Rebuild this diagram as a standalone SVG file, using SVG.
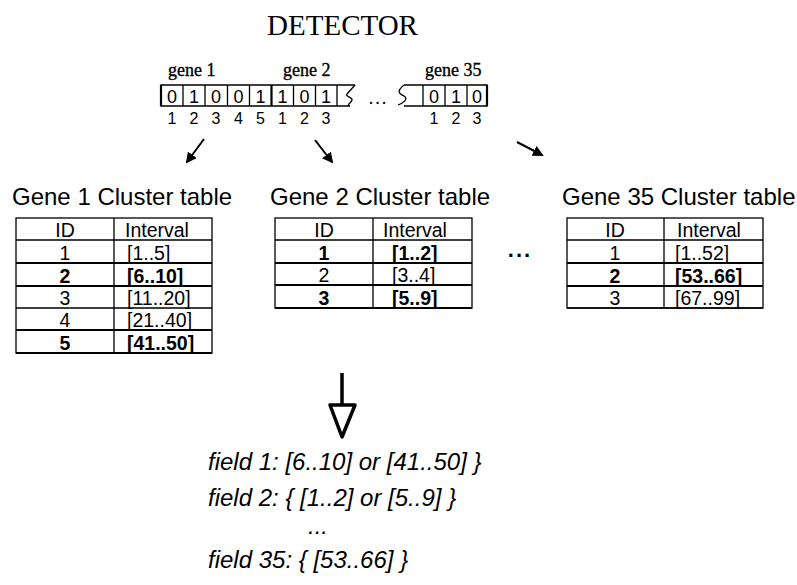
<svg xmlns="http://www.w3.org/2000/svg" width="797" height="585" viewBox="0 0 797 585">
<style>
.serif{font-family:"Liberation Serif","Times New Roman",serif;fill:#000}
.sans{font-family:"Liberation Sans",Arial,sans-serif;fill:#000}
.gl{font-size:18px;stroke:#000;stroke-width:0.35}
.title{font-size:24px}
.cell{font-size:18px;text-anchor:middle}
.idx{font-size:16px;text-anchor:middle}
.tt{font-size:19.5px}
.c{text-anchor:middle}
.b{font-weight:bold}
.field{font-size:24px;font-style:italic}
.ln{stroke:#000;stroke-width:1.3;fill:none}
.th{stroke:#000;stroke-width:2.2;fill:none}
.arr{stroke:#000;stroke-width:2;fill:none}
</style>
<defs>
<marker id="ah" markerWidth="11" markerHeight="11" refX="9" refY="5.5" orient="auto" markerUnits="userSpaceOnUse">
<path d="M0,0 L11,5.5 L0,11 Z" fill="#000"/>
</marker>
</defs>

<g id="detector-title">
<text class="serif" x="342.5" y="35" font-size="29" text-anchor="middle">DETECTOR</text>
</g>

<g id="bitstring">
<text class="serif gl" x="168" y="76">gene 1</text>
<text class="serif gl" x="283" y="76">gene 2</text>
<text class="serif gl" x="425" y="76">gene 35</text>
<path class="ln" d="M161 85 H355 M161 106 H350"/>
<path class="ln" d="M183 85 V106 M205 85 V106 M227.5 85 V106 M249.5 85 V106 M293.5 85 V106 M315.5 85 V106 M337 85 V106"/>
<path class="th" d="M161 84.5 V106.5 M271.5 85 V106"/>
<path class="ln" d="M355 85 L347 94 C345 97, 353 97, 352 100 C351 103, 347 104, 349 106"/>
<text class="sans" x="378" y="104" font-size="20" text-anchor="middle" letter-spacing="1">...</text>
<path class="ln" d="M404 85 C398 90, 397 93, 404 96 C409 99, 403 103, 398 105"/>
<path class="ln" d="M404 85 H487 M404 106 H487 M423 85 V106 M445 85 V106 M467 85 V106"/>
<path class="th" d="M487 84.5 V106.5"/>
<g class="sans cell">
<text x="172" y="103">0</text><text x="194" y="103">1</text><text x="216" y="103">0</text><text x="238.5" y="103">0</text><text x="260.5" y="103">1</text>
<text x="282.5" y="103">1</text><text x="304.5" y="103">0</text><text x="326" y="103">1</text>
<text x="434" y="103">0</text><text x="456" y="103">1</text><text x="477" y="103">0</text>
</g>
<g class="sans idx">
<text x="172" y="124">1</text><text x="194" y="124">2</text><text x="216" y="124">3</text><text x="238.5" y="124">4</text><text x="260.5" y="124">5</text>
<text x="282.5" y="124">1</text><text x="304.5" y="124">2</text><text x="326" y="124">3</text>
<text x="434" y="124">1</text><text x="456" y="124">2</text><text x="477" y="124">3</text>
</g>
</g>

<g id="connectors">
<line class="arr" x1="204" y1="139" x2="187" y2="162" marker-end="url(#ah)"/>
<line class="arr" x1="315" y1="140" x2="332" y2="162" marker-end="url(#ah)"/>
<line class="arr" x1="517" y1="142" x2="542" y2="155" marker-end="url(#ah)"/>
<line x1="342" y1="373" x2="342" y2="405" stroke="#000" stroke-width="3.5"/>
<path d="M330 405 H355 L342 437 Z" fill="none" stroke="#000" stroke-width="3.5" stroke-linejoin="round"/>
</g>

<g id="table1">
<text class="sans title" x="12" y="205">Gene 1 Cluster table</text>
<rect class="ln" x="16" y="218" width="196" height="135"/>
<path class="ln" d="M114 218 V353 M16 240 H212 M16 308 H212"/>
<path class="th" d="M16 263 H212 M16 286 H212 M16 330 H212 M16 353 H212"/>
<g class="sans tt">
<text class="c" x="65" y="237">ID</text><text x="125" y="237">Interval</text>
<text class="c" x="65" y="260">1</text><text x="127" y="260">[1..5]</text>
<text class="c b" x="65" y="283">2</text><text class="b" x="127" y="283">[6..10]</text>
<text class="c" x="65" y="305">3</text><text x="127" y="305">[11..20]</text>
<text class="c" x="65" y="327">4</text><text x="127" y="327">[21..40]</text>
<text class="c b" x="65" y="350">5</text><text class="b" x="127" y="350">[41..50]</text>
</g>
</g>

<g id="table2">
<text class="sans title" x="270" y="205">Gene 2 Cluster table</text>
<rect class="ln" x="275" y="218" width="197" height="90"/>
<path class="ln" d="M373 218 V308 M275 240 H472"/>
<path class="th" d="M275 263 H472 M275 285 H472 M275 308 H472"/>
<g class="sans tt">
<text class="c" x="324" y="237">ID</text><text x="383" y="237">Interval</text>
<text class="c b" x="324" y="260">1</text><text class="b" x="392" y="260">[1..2]</text>
<text class="c" x="324" y="282">2</text><text x="392" y="282">[3..4]</text>
<text class="c b" x="324" y="305">3</text><text class="b" x="392" y="305">[5..9]</text>
</g>
</g>

<g id="ellipsis">
<text class="sans b" x="520" y="257" font-size="22" text-anchor="middle" letter-spacing="2">...</text>
</g>

<g id="table3">
<text class="sans title" x="562" y="205">Gene 35 Cluster table</text>
<rect class="ln" x="567" y="218" width="196" height="90"/>
<path class="ln" d="M664 218 V308 M567 240 H763 M567 308 H763"/>
<path class="th" d="M567 263 H763 M567 286 H763"/>
<g class="sans tt">
<text class="c" x="615" y="237">ID</text><text x="677" y="237">Interval</text>
<text class="c" x="615" y="260">1</text><text x="675" y="260">[1..52]</text>
<text class="c b" x="615" y="283">2</text><text class="b" x="675" y="283">[53..66]</text>
<text class="c" x="615" y="305">3</text><text x="675" y="305">[67..99]</text>
</g>
</g>

<g id="fields">
<text class="sans field" x="208" y="470">field 1: [6..10] or [41..50] }</text>
<text class="sans field" x="208" y="506">field 2: { [1..2] or [5..9] }</text>
<text class="sans field" x="308" y="534">...</text>
<text class="sans field" x="208" y="568">field 35: { [53..66] }</text>
</g>
</svg>
